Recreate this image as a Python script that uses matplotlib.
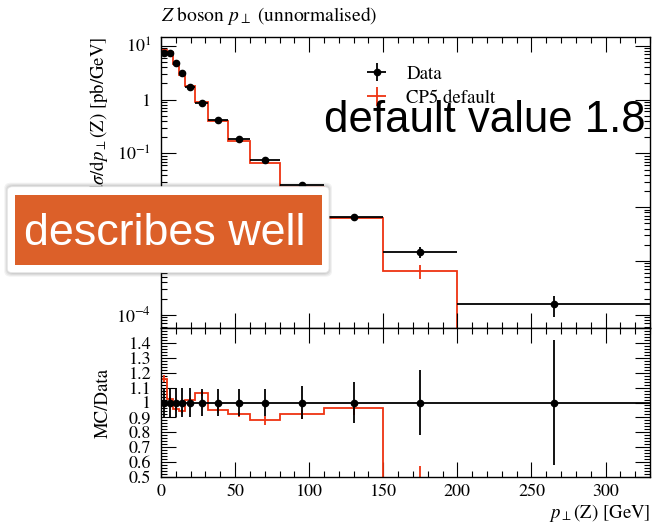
import numpy as np
import matplotlib
matplotlib.use("Agg")
import matplotlib.pyplot as plt
from matplotlib.ticker import (MultipleLocator, LogLocator, FuncFormatter,
                               NullFormatter)
from matplotlib.patches import FancyBboxPatch, Rectangle

# ---- histogram content -------------------------------------------------
bin_edges = [0, 4, 8, 12, 16, 23, 32, 45, 60, 80, 110, 150, 200, 330]
data_xsec = [7.2, 7.4, 4.7, 3.05, 1.74, 0.86, 0.42, 0.187, 0.0765,
             0.0256, 0.0066, 0.00149, 0.000158]
data_relerr = [0.10, 0.10, 0.10, 0.10, 0.10, 0.09, 0.09, 0.09, 0.09,
               0.11, 0.14, 0.22, 0.42]
mc_xsec = [8.35, 7.55, 4.49, 2.87, 1.77, 0.912, 0.399, 0.172, 0.0673,
           0.02355, 0.00637, 0.00066, 0.0]
mc_relerr = [0.02, 0.015, 0.015, 0.015, 0.015, 0.015, 0.02, 0.02, 0.035,
             0.035, 0.05, 0.30, 0.0]

data_label = "Data"
mc_label = "CP5 default"
title_text = r"$Z$ boson $p_\perp$ (unnormalised)"
ylabel_main = r"d$\sigma$/d$p_\perp$(Z) [pb/GeV]"
ylabel_ratio = "MC/Data"
xlabel_text = r"$p_\perp$(Z) [GeV]"
note_text = "default value 1.8"
badge_text = "describes well"

# ---- style ---------------------------------------------------------------
plt.rcParams["font.family"] = ["STIXGeneral", "DejaVu Serif"]
plt.rcParams["mathtext.fontset"] = "stix"
RED = "#EE3311"
W, H = 654, 523
FS = 13.5      # axis / legend text size
TFS = 13       # tick label size

edges = np.array(bin_edges, float)
centers = 0.5 * (edges[:-1] + edges[1:])
halfw = 0.5 * np.diff(edges)
data = np.array(data_xsec)
d_err = data * np.array(data_relerr)
mc = np.array(mc_xsec)
mc_err = mc * np.array(mc_relerr)
has_mc = mc > 0

fig = plt.figure(figsize=(W / 100, H / 100), dpi=100)

def fx(px):
    return px / W

def fy(py):
    return 1 - py / H

left, right = 161, 650
top, mid, bottom = 37, 328, 477
ax = fig.add_axes([fx(left), fy(mid), fx(right - left), (mid - top) / H])
axr = fig.add_axes([fx(left), fy(bottom), fx(right - left), (bottom - mid) / H],
                   sharex=ax)

tick_kw = dict(direction="in", top=True, right=True, width=0.8)
for a in (ax, axr):
    a.tick_params(which="major", length=10.5, labelsize=TFS, pad=7, **tick_kw)
    a.tick_params(which="minor", length=4.5, **tick_kw)
    for s in a.spines.values():
        s.set_linewidth(1.0)
axr.tick_params(axis="x", which="major", pad=5)

# ---- main panel --------------------------------------------------------
ax.stairs(mc, edges, baseline=None, color=RED, lw=1.3)
ax.errorbar(centers[has_mc], mc[has_mc], yerr=mc_err[has_mc], fmt="none",
            ecolor=RED, elinewidth=1.3, capsize=0)
ax.errorbar(centers, data, xerr=halfw, yerr=d_err, fmt="o", color="k",
            ms=4.5, elinewidth=1.3, capsize=0)

# legend entries built from the same styles
h_data = ax.errorbar([], [], xerr=[], yerr=[], fmt="o", color="k", ms=4.5,
                     elinewidth=1.3, capsize=0)
h_mc = ax.errorbar([], [], xerr=[], yerr=[], fmt="none", ecolor=RED,
                   elinewidth=1.3, capsize=0)
ax.legend([h_data, h_mc], [data_label, mc_label], loc="upper left",
          bbox_to_anchor=((357 - left) / (right - left), (mid - 65.5) / (mid - top)),
          frameon=False, fontsize=FS, handlelength=2.1, handletextpad=0.53,
          labelspacing=0.37, borderpad=0, borderaxespad=0)

ax.set_yscale("log", nonpositive="clip")
ax.set_xlim(edges[0], edges[-1])
ax.set_ylim(5.7e-5, 14.5)
ax.yaxis.set_major_locator(LogLocator(base=10, numticks=20))
ax.yaxis.set_minor_locator(LogLocator(base=10, subs=np.arange(2, 10), numticks=20))
ax.yaxis.set_minor_formatter(NullFormatter())

def log_fmt(v, pos):
    e = int(round(np.log10(v)))
    return "1" if e == 0 else r"$10^{%d}$" % e

ax.yaxis.set_major_formatter(FuncFormatter(log_fmt))
ax.tick_params(labelbottom=False)
ax.xaxis.set_major_locator(MultipleLocator(50))
ax.xaxis.set_minor_locator(MultipleLocator(10))

ax.set_ylabel(ylabel_main, fontsize=FS, loc="top")
ax.yaxis.set_label_coords((110 - left) / (right - left), 1.0)
ax.text(0, 1 + 15.5 / (mid - top), title_text, transform=ax.transAxes,
        fontsize=14, ha="left", va="baseline")

# ---- ratio panel ---------------------------------------------------------
ratio = mc / data
ratio_err = mc_err / data
axr.errorbar(centers, np.ones_like(centers), xerr=halfw, yerr=data_relerr,
             fmt="o", color="k", ms=4.5, elinewidth=1.3, capsize=0, zorder=3)
axr.stairs(ratio, edges, baseline=None, color=RED, lw=1.3, zorder=2)
axr.errorbar(centers[has_mc], ratio[has_mc], yerr=ratio_err[has_mc], fmt="none",
             ecolor=RED, elinewidth=1.3, capsize=0, zorder=2)
axr.set_ylim(0.5, 1.5)
axr.yaxis.set_major_locator(MultipleLocator(0.1))
axr.yaxis.set_minor_locator(MultipleLocator(0.02))
axr.yaxis.set_major_formatter(
    FuncFormatter(lambda v, p: "" if v > 1.45 else "%g" % round(v, 2)))
axr.xaxis.set_major_locator(MultipleLocator(50))
axr.xaxis.set_minor_locator(MultipleLocator(10))
axr.set_ylabel(ylabel_ratio, fontsize=FS)
axr.yaxis.set_label_coords((112 - left) / (right - left), 0.5)
axr.set_xlabel(xlabel_text, fontsize=FS, loc="right", va="baseline")
axr.xaxis.set_label_coords(1.0, (bottom - 517.5) / (bottom - mid))

# ---- annotations on top of the figure ----------------------------------
fig.text(fx(323.5), fy(132), note_text, fontsize=31.5, family="Liberation Sans",
         color="black", va="baseline", ha="left", zorder=10)

# soft shadow under the badge
for i, a in enumerate([0.05, 0.05, 0.06, 0.07]):
    g = 4 - i
    fig.add_artist(FancyBboxPatch(
        (fx(7.3 - g + 1), fy(272.7 + g)), fx(321.7 + 2 * g - 2), (86 + 2 * g) / H,
        boxstyle="round,pad=0,rounding_size=0.01", transform=fig.transFigure,
        fc="black", ec="none", alpha=a, zorder=8))
fig.add_artist(FancyBboxPatch(
    (fx(7.3), fy(272.7)), fx(321.7), 86 / H,
    boxstyle="round,pad=0,rounding_size=0.008", transform=fig.transFigure,
    fc="white", ec="#e6e6e6", lw=0.6, zorder=9))
fig.add_artist(Rectangle((fx(15), fy(265)), fx(306.7), 70 / H,
                         transform=fig.transFigure, fc="#DC6029", ec="none",
                         zorder=10))
fig.text(fx(24), fy(245), badge_text, fontsize=32.3, family="Liberation Sans",
         color="white", va="baseline", ha="left", zorder=11)

fig.savefig("out.png", dpi=100)
